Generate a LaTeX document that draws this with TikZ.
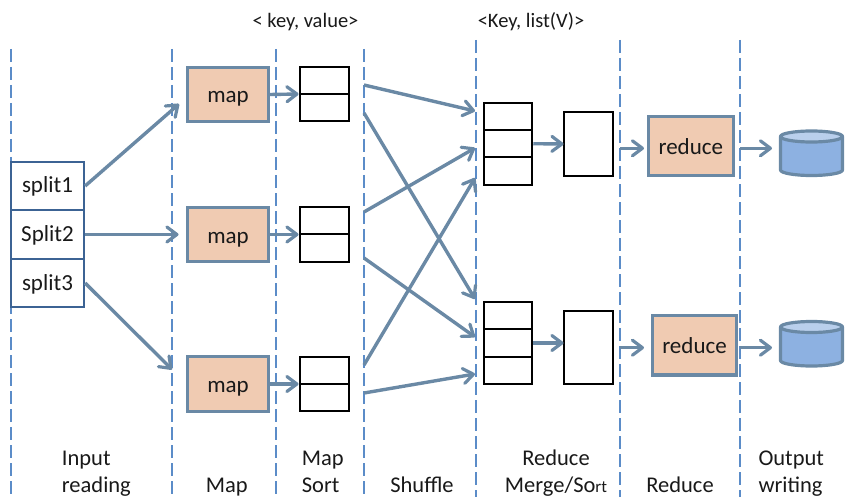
\documentclass[tikz,border=0pt]{standalone}
\usepackage{fontspec}
\setmainfont{Carlito}
\usetikzlibrary{arrows.meta}
\definecolor{flowline}{HTML}{6A89A5}
\definecolor{splitline}{HTML}{3C6394}
\definecolor{phaseline}{HTML}{5B8CC8}
\definecolor{taskfill}{HTML}{F0CBB2}
\definecolor{diskfill}{HTML}{8DB1E1}
\definecolor{disktop}{HTML}{B9CFEC}
\begin{document}
\begin{tikzpicture}[x=1pt,y=-1pt,
    every node/.style={font=\fontsize{22.5}{27.7}\selectfont, text=black!90, inner sep=0pt},
    splitbox/.style={rectangle, draw=splitline, line width=2.2pt, fill=white, minimum width=73pt, minimum height=48.5pt, font=\fontsize{23}{27}\selectfont, text height=17pt, text depth=3pt},
    taskbox/.style={rectangle, draw=flowline, line width=3.2pt, fill=taskfill, minimum height=54.5pt, font=\fontsize{23}{27}\selectfont, text height=20pt, text depth=3pt},
    cell/.style={rectangle, draw=black, line width=2pt, fill=white, minimum width=48.5pt, minimum height=27.2pt},
    diskpart/.style={draw=flowline, line width=3.2pt, line join=round},
    phase/.style={phaseline, line width=1.2pt, dash pattern=on 13pt off 5pt},
    flow/.style={flowline, line width=3.4pt, -{Straight Barb[length=10pt,width=15pt,line width=3.2pt,round]}}]
  \useasboundingbox (0,0) rectangle (845,497);
  % phases
  \coordinate (p1) at (11,49);   \coordinate (q1) at (11,497);
  \coordinate (p2) at (172,49);  \coordinate (q2) at (172,497);
  \coordinate (p3) at (276,49);  \coordinate (q3) at (276,497);
  \coordinate (p4) at (364,49);  \coordinate (q4) at (364,497);
  \coordinate (p5) at (476,40);  \coordinate (q5) at (476,497);
  \coordinate (p6) at (620,40);  \coordinate (q6) at (620,497);
  \coordinate (p7) at (740,40);  \coordinate (q7) at (740,497);
  \foreach \source/\dest in {p1/q1, p2/q2, p3/q3, p4/q4, p5/q5, p6/q6, p7/q7}
    \draw[phase] (\source) -- (\dest);
  % input
  \node (split1) at (47.5,186) [splitbox] {split1};
  \node (split2) at (47.5,234.5) [splitbox] {Split2};
  \node (split3) at (47.5,283) [splitbox] {split3};
  % map
  \node (map1) at (228,94.5) [taskbox, minimum width=80.5pt] {map};
  \node (map2) at (228,234.5) [taskbox, minimum width=80.5pt] {map};
  \node (map3) at (228,384) [taskbox, minimum width=80.5pt] {map};
  % map sort
  \node (a1) at (324.3,80.5) [cell] {};
  \node (a2) at (324.3,107.6) [cell] {};
  \node (b1) at (324.3,220.8) [cell] {};
  \node (b2) at (324.3,248) [cell] {};
  \node (c1) at (324.3,370.3) [cell] {};
  \node (c2) at (324.3,397.7) [cell] {};
  % merge
  \node (d1) at (508,116.5) [cell] {};
  \node (d2) at (508,143.7) [cell] {};
  \node (d3) at (508,170.9) [cell] {};
  \node (e1) at (508,315.5) [cell] {};
  \node (e2) at (508,343) [cell] {};
  \node (e3) at (508,370.5) [cell] {};
  \node (f1) at (588.4,144) [cell, minimum width=48.7pt, minimum height=63.4pt] {};
  \node (f2) at (588.4,347.8) [cell, minimum width=48.7pt, minimum height=73pt] {};
  % reduce
  \node (red1) at (690.8,146.2) [taskbox, minimum width=85pt, minimum height=59pt] {reduce};
  \node (red2) at (694.5,345.3) [taskbox, minimum width=84.4pt, minimum height=59.3pt] {reduce};
  % output
  \foreach \disktop in {136.5,327}{
    \draw[diskpart, fill=diskfill] (780.5,\disktop) -- (780.5,\disktop+33.5) arc[start angle=180, end angle=0, x radius=31, y radius=5.5] -- (842.5,\disktop) -- cycle;
    \draw[diskpart, fill=disktop] (811.5,\disktop) ellipse [x radius=31, y radius=5.5];
  }
  % arrow ends
  \coordinate (t1) at (179,104);
  \coordinate (t2) at (178.5,234.5);
  \coordinate (t3) at (172,369.5);
  \coordinate (m1) at (298.5,94);
  \coordinate (m2) at (298.5,234.5);
  \coordinate (m3) at (298.5,384);
  \coordinate (s1) at (364,85);
  \coordinate (s2) at (364,113);
  \coordinate (s3) at (364,212);
  \coordinate (s4) at (364,258);
  \coordinate (s5) at (364,365);
  \coordinate (s6) at (364,393);
  \coordinate (g1) at (475,111);
  \coordinate (g2) at (475,148);
  \coordinate (g3) at (475,178);
  \coordinate (g4) at (475,299);
  \coordinate (g5) at (475,337);
  \coordinate (g6) at (475,374);
  \coordinate (h1) at (563.5,144);
  \coordinate (h2) at (563.5,343);
  \coordinate (k1) at (620,148.3);
  \coordinate (k2) at (620,347.7);
  \coordinate (l1) at (644,148.3);
  \coordinate (l2) at (644,347.7);
  \coordinate (n1) at (740,148.3);
  \coordinate (n2) at (740,347.7);
  \coordinate (o1) at (772,148.3);
  \coordinate (o2) at (772,347.7);
  \foreach \source/\dest in {split1.east/t1, split2.east/t2, split3.east/t3, map1.east/m1, map2.east/m2, map3.east/m3, s1/g1, s2/g4, s3/g2, s4/g5, s5/g3, s6/g6, d2.east/h1, e2.east/h2, k1/l1, k2/l2, n1/o1, n2/o2}
    \draw[flow] (\source) -- (\dest);
  % texts
  \node (kv) at (305.5,27.5) [anchor=base, font=\fontsize{20.5}{25}\selectfont] {< key, value>};
  \node (kl) at (531,27.5) [anchor=base, font=\fontsize{20.5}{25}\selectfont] {<Key, list(V)>};
  \node (input) at (61.7,492.7) [anchor=base west, align=left] {Input\\reading};
  \node (maplabel) at (226.7,492.7) [anchor=base] {Map};
  \node (sortlabel) at (301.7,492.7) [anchor=base west, align=left] {Map\\Sort};
  \node (shuffle) at (422,492.7) [anchor=base] {Shuffle};
  \node (merge) at (556,492.7) [anchor=base, align=center] {Reduce\\Merge/So{\fontsize{17}{20}\selectfont rt}};
  \node (reducelabel) at (680,492.7) [anchor=base] {Reduce};
  \node (output) at (758.3,492.7) [anchor=base west, align=left] {Output\\writing};
\end{tikzpicture}
\end{document}
